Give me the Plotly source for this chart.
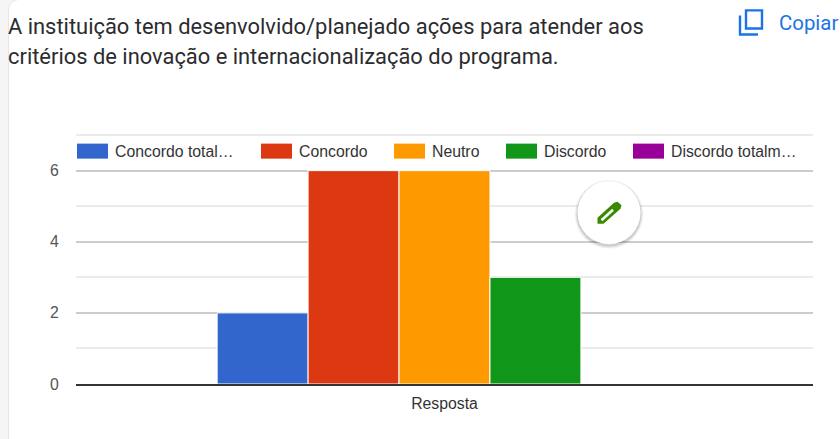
import plotly.graph_objects as go

WIDTH, HEIGHT = 840, 439
M_L, M_R, M_T, M_B = 76, 27, 134.4, 55

CATEGORY = ["Resposta"]
SERIES = ["Concordo totalmente", "Concordo", "Neutro", "Discordo", "Discordo totalmente"]
VALUES = [2, 6, 6, 3, 0]
COLORS = ["#3366cc", "#dc3912", "#ff9900", "#109618", "#990099"]
LEGEND_LABELS = ["Concordo total…", "Concordo", "Neutro", "Discordo", "Discordo totalm…"]
LEGEND_X = [77, 261, 394, 506, 633]
TITLE_LINES = [
    "A instituição tem desenvolvido/planejado ações para atender aos",
    "critérios de inovação e internacionalização do programa.",
]
Y_TICKS = [0, 2, 4, 6]

PLOT_W = WIDTH - M_L - M_R
PLOT_H = HEIGHT - M_T - M_B


def px(x):
    return (x - M_L) / PLOT_W


def py(y):
    return 1 - (y - M_T) / PLOT_H


def path(points, close=False):
    d = "M" + " L".join(f"{px(x):.5f},{py(y):.5f}" for x, y in points)
    return d + (" Z" if close else "")


def page_shape(**kw):
    return dict(xref="paper", yref="paper", **kw)


def circle(cx, cy, r, **kw):
    return page_shape(type="circle", x0=px(cx - r), x1=px(cx + r), y0=py(cy - r), y1=py(cy + r), **kw)


fig = go.Figure()
for name, value, color in zip(SERIES, VALUES, COLORS):
    fig.add_trace(go.Bar(
        x=CATEGORY,
        y=[value],
        name=name,
        marker=dict(color=color, line=dict(color="#ffffff", width=1)),
    ))

shapes = []
# card behind the chart, rounded at the top left
card = f"M{px(8.5):.5f},{py(450):.5f} L{px(8.5):.5f},{py(12):.5f} Q{px(8.5):.5f},{py(0):.5f} {px(20):.5f},{py(0):.5f} L{px(850):.5f},{py(0):.5f} L{px(850):.5f},{py(450):.5f} Z"
shapes.append(page_shape(type="path", path=card, fillcolor="#ffffff", line=dict(color="#e6e6e6", width=1), layer="below"))

# legend swatches
annotations = []
for x, label, color in zip(LEGEND_X, LEGEND_LABELS, COLORS):
    shapes.append(page_shape(type="rect", x0=px(x), x1=px(x + 31), y0=py(144), y1=py(159),
                             fillcolor=color, line=dict(width=0)))
    annotations.append(dict(xref="paper", yref="paper", x=px(x + 36), y=py(152), text=label, showarrow=False,
                            xanchor="left", yanchor="middle",
                            font=dict(family="Liberation Sans", size=15.8, color="#333333")))

# floating edit button with its soft shadow
for r, op in [(34.5, 0.04), (33.5, 0.06), (32.5, 0.1)]:
    shapes.append(circle(609, 214.5, r, fillcolor="#000000", opacity=op, line=dict(width=0)))
shapes.append(circle(609, 213, 31.5, fillcolor="#ffffff", line=dict(width=0)))
pencil = [(597.5, 224), (597.5, 218), (614, 203), (617.5, 202), (621.5, 205.5), (620.5, 209), (603.5, 224)]
shapes.append(page_shape(type="path", path=path(pencil, True), fillcolor="#3a8a00", line=dict(width=0)))
shapes.append(page_shape(type="path", path=path([(601.5, 220.5), (613, 210)]), line=dict(color="#ffffff", width=2.5)))

# copy icon
shapes.append(page_shape(type="rect", x0=px(746), x1=px(762), y0=py(29), y1=py(11),
                         line=dict(color="#1a73e8", width=2.4)))
shapes.append(page_shape(type="path", path=path([(740, 16), (740, 35), (758, 35)]),
                         line=dict(color="#1a73e8", width=2.4)))

for y, line in zip([27, 57], TITLE_LINES):
    annotations.append(dict(xref="paper", yref="paper", x=px(6), y=py(y), text=line, showarrow=False,
                            xanchor="left", yanchor="middle",
                            font=dict(family="Roboto", size=21.9, color="#2b2c2f")))
annotations.append(dict(xref="paper", yref="paper", x=px(777), y=py(24), text="Copiar", showarrow=False,
                        xanchor="left", yanchor="middle",
                        font=dict(family="Roboto", size=20.4, color="#1a73e8")))

fig.update_layout(
    width=WIDTH,
    height=HEIGHT,
    margin=dict(l=M_L, r=M_R, t=M_T, b=M_B, pad=0),
    paper_bgcolor="#f5f5f5",
    plot_bgcolor="rgba(0,0,0,0)",
    barmode="group",
    bargap=0.383,
    bargroupgap=0,
    showlegend=False,
    shapes=shapes,
    annotations=annotations,
    xaxis=dict(
        showgrid=False,
        showline=True,
        linecolor="#333333",
        linewidth=2,
        ticks="outside",
        ticklen=4,
        tickcolor="rgba(0,0,0,0)",
        tickfont=dict(family="Liberation Sans", size=15.8, color="#333333"),
    ),
    yaxis=dict(
        range=[0, 7.03],
        tickvals=Y_TICKS,
        gridcolor="#cccccc",
        gridwidth=2,
        zeroline=False,
        ticks="outside",
        ticklen=13,
        tickcolor="rgba(0,0,0,0)",
        tickfont=dict(family="Liberation Sans", size=15.8, color="#555555"),
        minor=dict(dtick=1, showgrid=True, gridcolor="#ebebeb", gridwidth=2),
    ),
)

fig.write_html(
    "out.html",
    config=dict(displayModeBar=False),
    post_script="document.body.style.margin='0';document.body.style.overflow='hidden';",
)
